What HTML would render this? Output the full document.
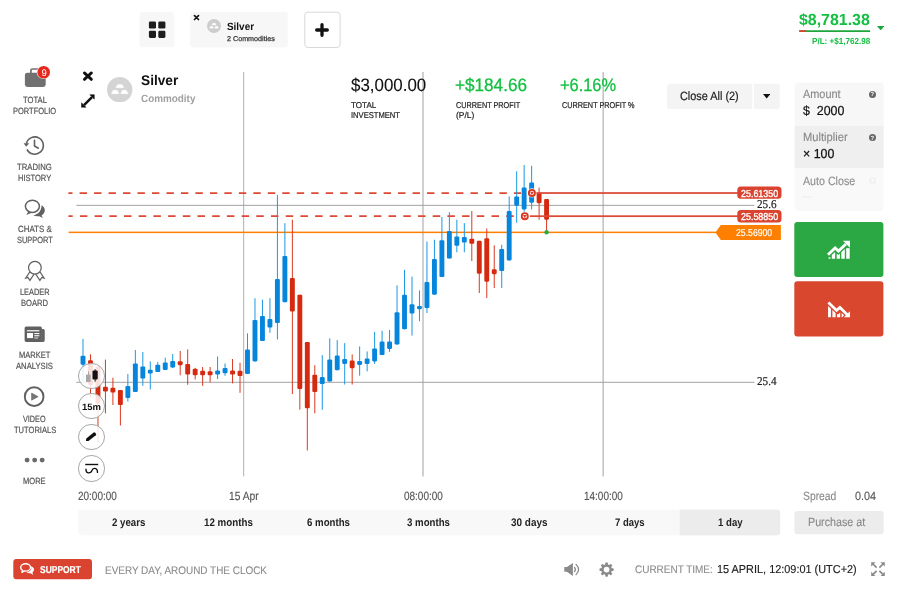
<!DOCTYPE html>
<html lang="en"><head><meta charset="utf-8"><title>Silver - Trading</title>
<style>
html,body{margin:0;padding:0;background:#fff;}
body{width:902px;height:590px;position:relative;overflow:hidden;font-family:"Liberation Sans",sans-serif;}
.b{position:absolute;display:block;}
.t{position:absolute;display:block;white-space:pre;line-height:1;transform-origin:0 0;text-rendering:geometricPrecision;}
.ff-s{font-family:"Liberation Serif",serif;}
</style></head><body>
<svg class="b" style="left:0;top:0" width="902" height="590" viewBox="0 0 902 590"><path d="M142.50 12.00H171.50A3 3 0 0 1 174.50 15.00V44.30A3 3 0 0 1 171.50 47.30H142.50A3 3 0 0 1 139.50 44.30V15.00A3 3 0 0 1 142.50 12.00z" fill="#f7f7f7"/><path d="M193.30 12.00H284.70A3 3 0 0 1 287.70 15.00V44.40A3 3 0 0 1 284.70 47.40H193.30A3 3 0 0 1 190.30 44.40V15.00A3 3 0 0 1 193.30 12.00z" fill="#f7f7f7"/><path d="M307.80 12.20H337.10A3 3 0 0 1 340.10 15.20V44.50A3 3 0 0 1 337.10 47.50H307.80A3 3 0 0 1 304.80 44.50V15.20A3 3 0 0 1 307.80 12.20z" fill="#fff" stroke="#d8d8d8" stroke-width="1"/><path d="M799.30 30.20H870.10V32.00H799.30V30.20z" fill="#1fa43e"/><path d="M799.30 30.20H806.20V32.00H799.30V30.20z" fill="#d9432f"/><path d="M669.90 83.80H752.20V108.90H669.90A3 3 0 0 1 666.90 105.90V86.80A3 3 0 0 1 669.90 83.80z" fill="#f4f4f4"/><path d="M754.00 83.80H776.80A3 3 0 0 1 779.80 86.80V105.90A3 3 0 0 1 776.80 108.90H754.00V83.80z" fill="#f4f4f4"/><path d="M798.70 82.60H879.70A4 4 0 0 1 883.70 86.60V126.00H794.70V86.60A4 4 0 0 1 798.70 82.60z" fill="#f7f7f7"/><path d="M794.70 126.00H883.70V168.00H794.70V126.00z" fill="#efefef"/><path d="M794.70 168.00H883.70V207.00A4 4 0 0 1 879.70 211.00H798.70A4 4 0 0 1 794.70 207.00V168.00z" fill="#f9f9f9"/><path d="M802.70 196.30H811.50V197.30H802.70V196.30z" fill="#ececec"/><path d="M797.30 222.00H880.40A3 3 0 0 1 883.40 225.00V273.90A3 3 0 0 1 880.40 276.90H797.30A3 3 0 0 1 794.30 273.90V225.00A3 3 0 0 1 797.30 222.00z" fill="#2ba843"/><path d="M797.30 281.30H880.40A3 3 0 0 1 883.40 284.30V333.50A3 3 0 0 1 880.40 336.50H797.30A3 3 0 0 1 794.30 333.50V284.30A3 3 0 0 1 797.30 281.30z" fill="#d9472f"/><path d="M797.40 511.00H880.70A3 3 0 0 1 883.70 514.00V531.30A3 3 0 0 1 880.70 534.30H797.40A3 3 0 0 1 794.40 531.30V514.00A3 3 0 0 1 797.40 511.00z" fill="#ececec"/><path d="M81.30 509.70H777.10A3 3 0 0 1 780.10 512.70V532.30A3 3 0 0 1 777.10 535.30H81.30A3 3 0 0 1 78.30 532.30V512.70A3 3 0 0 1 81.30 509.70z" fill="#f8f8f8"/><path d="M679.70 509.70H777.10A3 3 0 0 1 780.10 512.70V532.30A3 3 0 0 1 777.10 535.30H679.70V509.70z" fill="#ececec"/><path d="M16.30 559.10H89.00A3 3 0 0 1 92.00 562.10V576.20A3 3 0 0 1 89.00 579.20H16.30A3 3 0 0 1 13.30 576.20V562.10A3 3 0 0 1 16.30 559.10z" fill="#d9432f"/></svg>
<svg class="b" style="left:0;top:0" width="902" height="590" viewBox="0 0 902 590">
<rect x="243.3" y="72" width="0.85" height="404.400" fill="#a2a2a2"/>
<rect x="422.5" y="72" width="1" height="404.400" fill="#a2a2a2"/>
<rect x="602.62" y="72" width="1" height="404.400" fill="#a2a2a2"/>
<rect x="76.300" y="204.850" width="678" height="1" fill="#a2a2a2"/>
<rect x="76.300" y="381.800" width="678" height="1" fill="#a2a2a2"/>
<rect x="68.600" y="231.600" width="655" height="1.500" fill="#ff8000"/>
<clipPath id="dc"><rect x="68.400" y="180" width="500" height="50"/></clipPath>
<g clip-path="url(#dc)" fill="none" stroke="#dc4a36" stroke-width="1.750">
<path d="M65.120 193.150H521.100" stroke-dasharray="7.400 7.077"/>
<path d="M65.200 216.050H513.700" stroke-dasharray="7.500 7.200"/>
</g>
<rect x="82.50" y="338.9" width="1" height="42.4" fill="#1c98e4"/>
<rect x="80.55" y="355.7" width="4.900" height="9.0" rx="1.100" fill="#0685dd"/>
<rect x="89.98" y="354.3" width="1" height="43.3" fill="#d93a22"/>
<rect x="88.03" y="360.3" width="4.900" height="24.7" rx="1.100" fill="#d52a10"/>
<rect x="97.45" y="366.0" width="1" height="77.0" fill="#d93a22"/>
<rect x="95.50" y="366.7" width="4.900" height="37.0" rx="1.100" fill="#d52a10"/>
<rect x="104.93" y="359.6" width="1" height="53.8" fill="#d93a22"/>
<rect x="102.98" y="386.7" width="4.900" height="4.8" rx="1.100" fill="#d52a10"/>
<rect x="112.41" y="377.7" width="1" height="27.3" fill="#d93a22"/>
<rect x="110.46" y="387.7" width="4.900" height="4.8" rx="1.100" fill="#d52a10"/>
<rect x="119.89" y="390.0" width="1" height="35.5" fill="#d93a22"/>
<rect x="117.94" y="390.0" width="4.900" height="15.0" rx="1.100" fill="#d52a10"/>
<rect x="127.36" y="374.0" width="1" height="27.6" fill="#1c98e4"/>
<rect x="125.41" y="386.0" width="4.900" height="12.0" rx="1.100" fill="#0685dd"/>
<rect x="134.84" y="350.0" width="1" height="42.0" fill="#1c98e4"/>
<rect x="132.89" y="363.4" width="4.900" height="28.6" rx="1.100" fill="#0685dd"/>
<rect x="142.32" y="352.0" width="1" height="33.8" fill="#1c98e4"/>
<rect x="140.37" y="366.4" width="4.900" height="12.1" rx="1.100" fill="#0685dd"/>
<rect x="149.79" y="361.4" width="1" height="28.1" fill="#1c98e4"/>
<rect x="147.84" y="369.7" width="4.900" height="3.8" rx="1.100" fill="#0685dd"/>
<rect x="157.27" y="362.0" width="1" height="10.0" fill="#1c98e4"/>
<rect x="155.32" y="364.7" width="4.900" height="7.3" rx="1.100" fill="#0685dd"/>
<rect x="164.75" y="357.6" width="1" height="12.4" fill="#1c98e4"/>
<rect x="162.80" y="362.4" width="4.900" height="7.5" rx="1.100" fill="#0685dd"/>
<rect x="172.22" y="354.0" width="1" height="14.0" fill="#1c98e4"/>
<rect x="170.27" y="361.1" width="4.900" height="6.4" rx="1.100" fill="#0685dd"/>
<rect x="179.70" y="351.0" width="1" height="24.3" fill="#d93a22"/>
<rect x="177.75" y="361.2" width="4.900" height="4.0" rx="1.100" fill="#d52a10"/>
<rect x="187.18" y="349.4" width="1" height="35.4" fill="#d93a22"/>
<rect x="185.23" y="364.0" width="4.900" height="10.5" rx="1.100" fill="#d52a10"/>
<rect x="194.66" y="367.8" width="1" height="11.7" fill="#d93a22"/>
<rect x="192.71" y="368.7" width="4.900" height="6.6" rx="1.100" fill="#d52a10"/>
<rect x="202.13" y="367.0" width="1" height="18.8" fill="#d93a22"/>
<rect x="200.18" y="370.7" width="4.900" height="4.6" rx="1.100" fill="#d52a10"/>
<rect x="209.61" y="367.0" width="1" height="15.3" fill="#d93a22"/>
<rect x="207.66" y="371.2" width="4.900" height="4.1" rx="1.100" fill="#d52a10"/>
<rect x="217.09" y="356.5" width="1" height="22.5" fill="#1c98e4"/>
<rect x="215.14" y="370.5" width="4.900" height="4.0" rx="1.100" fill="#0685dd"/>
<rect x="224.56" y="363.5" width="1" height="12.3" fill="#1c98e4"/>
<rect x="222.61" y="368.0" width="4.900" height="5.3" rx="1.100" fill="#0685dd"/>
<rect x="232.04" y="359.0" width="1" height="24.3" fill="#d93a22"/>
<rect x="230.09" y="370.5" width="4.900" height="4.0" rx="1.100" fill="#d52a10"/>
<rect x="239.52" y="362.7" width="1" height="30.1" fill="#d93a22"/>
<rect x="237.57" y="370.7" width="4.900" height="5.4" rx="1.100" fill="#d52a10"/>
<rect x="246.99" y="333.4" width="1" height="40.6" fill="#1c98e4"/>
<rect x="245.04" y="349.4" width="4.900" height="24.6" rx="1.100" fill="#0685dd"/>
<rect x="254.47" y="298.2" width="1" height="63.2" fill="#1c98e4"/>
<rect x="252.52" y="320.0" width="4.900" height="41.4" rx="1.100" fill="#0685dd"/>
<rect x="261.95" y="299.6" width="1" height="41.4" fill="#1c98e4"/>
<rect x="260.00" y="316.0" width="4.900" height="25.0" rx="1.100" fill="#0685dd"/>
<rect x="269.43" y="298.2" width="1" height="34.6" fill="#1c98e4"/>
<rect x="267.48" y="319.0" width="4.900" height="8.6" rx="1.100" fill="#0685dd"/>
<rect x="276.90" y="195.0" width="1" height="144.5" fill="#1c98e4"/>
<rect x="274.95" y="279.0" width="4.900" height="44.0" rx="1.100" fill="#0685dd"/>
<rect x="284.38" y="223.2" width="1" height="79.0" fill="#1c98e4"/>
<rect x="282.43" y="256.0" width="4.900" height="46.2" rx="1.100" fill="#0685dd"/>
<rect x="291.86" y="219.7" width="1" height="174.3" fill="#d93a22"/>
<rect x="289.91" y="277.9" width="4.900" height="33.6" rx="1.100" fill="#d52a10"/>
<rect x="299.33" y="294.7" width="1" height="114.9" fill="#d93a22"/>
<rect x="297.38" y="294.7" width="4.900" height="94.3" rx="1.100" fill="#d52a10"/>
<rect x="306.81" y="342.1" width="1" height="108.4" fill="#d93a22"/>
<rect x="304.86" y="342.1" width="4.900" height="66.2" rx="1.100" fill="#d52a10"/>
<rect x="314.29" y="365.2" width="1" height="48.1" fill="#d93a22"/>
<rect x="312.34" y="374.7" width="4.900" height="17.3" rx="1.100" fill="#d52a10"/>
<rect x="321.76" y="355.1" width="1" height="54.7" fill="#1c98e4"/>
<rect x="319.81" y="377.0" width="4.900" height="7.0" rx="1.100" fill="#0685dd"/>
<rect x="329.24" y="338.3" width="1" height="43.2" fill="#1c98e4"/>
<rect x="327.29" y="359.4" width="4.900" height="22.1" rx="1.100" fill="#0685dd"/>
<rect x="336.72" y="340.1" width="1" height="30.1" fill="#1c98e4"/>
<rect x="334.77" y="355.6" width="4.900" height="14.6" rx="1.100" fill="#0685dd"/>
<rect x="344.19" y="343.1" width="1" height="41.4" fill="#1c98e4"/>
<rect x="342.25" y="359.1" width="4.900" height="4.8" rx="1.100" fill="#0685dd"/>
<rect x="351.67" y="354.4" width="1" height="30.1" fill="#d93a22"/>
<rect x="349.72" y="360.6" width="4.900" height="7.6" rx="1.100" fill="#d52a10"/>
<rect x="359.15" y="346.4" width="1" height="29.3" fill="#1c98e4"/>
<rect x="357.20" y="361.1" width="4.900" height="3.8" rx="1.100" fill="#0685dd"/>
<rect x="366.63" y="351.4" width="1" height="20.0" fill="#1c98e4"/>
<rect x="364.68" y="358.6" width="4.900" height="5.3" rx="1.100" fill="#0685dd"/>
<rect x="374.10" y="331.8" width="1" height="32.1" fill="#1c98e4"/>
<rect x="372.15" y="348.4" width="4.900" height="13.0" rx="1.100" fill="#0685dd"/>
<rect x="381.58" y="330.8" width="1" height="24.3" fill="#1c98e4"/>
<rect x="379.63" y="341.6" width="4.900" height="13.5" rx="1.100" fill="#0685dd"/>
<rect x="389.06" y="330.0" width="1" height="21.9" fill="#1c98e4"/>
<rect x="387.11" y="341.4" width="4.900" height="7.5" rx="1.100" fill="#0685dd"/>
<rect x="396.53" y="285.4" width="1" height="59.2" fill="#1c98e4"/>
<rect x="394.58" y="312.2" width="4.900" height="32.4" rx="1.100" fill="#0685dd"/>
<rect x="404.01" y="269.8" width="1" height="59.5" fill="#1c98e4"/>
<rect x="402.06" y="294.7" width="4.900" height="34.6" rx="1.100" fill="#0685dd"/>
<rect x="411.49" y="276.6" width="1" height="59.0" fill="#1c98e4"/>
<rect x="409.54" y="304.2" width="4.900" height="9.3" rx="1.100" fill="#0685dd"/>
<rect x="418.97" y="290.4" width="1" height="30.9" fill="#1c98e4"/>
<rect x="417.02" y="305.9" width="4.900" height="3.3" rx="1.100" fill="#0685dd"/>
<rect x="426.44" y="241.5" width="1" height="71.5" fill="#1c98e4"/>
<rect x="424.49" y="282.0" width="4.900" height="26.0" rx="1.100" fill="#0685dd"/>
<rect x="433.92" y="239.7" width="1" height="55.0" fill="#1c98e4"/>
<rect x="431.97" y="259.0" width="4.900" height="35.7" rx="1.100" fill="#0685dd"/>
<rect x="441.40" y="217.0" width="1" height="60.1" fill="#1c98e4"/>
<rect x="439.45" y="240.2" width="4.900" height="36.9" rx="1.100" fill="#0685dd"/>
<rect x="448.87" y="212.1" width="1" height="46.4" fill="#1c98e4"/>
<rect x="446.92" y="230.9" width="4.900" height="27.6" rx="1.100" fill="#0685dd"/>
<rect x="456.35" y="219.7" width="1" height="32.6" fill="#1c98e4"/>
<rect x="454.40" y="236.5" width="4.900" height="9.3" rx="1.100" fill="#0685dd"/>
<rect x="463.83" y="223.2" width="1" height="29.1" fill="#1c98e4"/>
<rect x="461.88" y="237.0" width="4.900" height="5.5" rx="1.100" fill="#0685dd"/>
<rect x="471.30" y="211.0" width="1" height="50.0" fill="#d93a22"/>
<rect x="469.35" y="238.7" width="4.900" height="5.1" rx="1.100" fill="#d52a10"/>
<rect x="478.78" y="240.8" width="1" height="52.2" fill="#d93a22"/>
<rect x="476.83" y="240.8" width="4.900" height="32.9" rx="1.100" fill="#d52a10"/>
<rect x="486.26" y="228.5" width="1" height="69.5" fill="#d93a22"/>
<rect x="484.31" y="238.3" width="4.900" height="43.4" rx="1.100" fill="#d52a10"/>
<rect x="493.74" y="245.3" width="1" height="42.7" fill="#d93a22"/>
<rect x="491.79" y="269.3" width="4.900" height="4.9" rx="1.100" fill="#d52a10"/>
<rect x="501.21" y="244.8" width="1" height="43.2" fill="#1c98e4"/>
<rect x="499.26" y="249.0" width="4.900" height="22.0" rx="1.100" fill="#0685dd"/>
<rect x="508.69" y="196.4" width="1" height="64.0" fill="#1c98e4"/>
<rect x="506.74" y="211.0" width="4.900" height="49.4" rx="1.100" fill="#0685dd"/>
<rect x="516.17" y="171.3" width="1" height="51.4" fill="#1c98e4"/>
<rect x="514.22" y="196.4" width="4.900" height="9.3" rx="1.100" fill="#0685dd"/>
<rect x="523.64" y="165.0" width="1" height="47.0" fill="#1c98e4"/>
<rect x="521.69" y="187.6" width="4.900" height="21.8" rx="1.100" fill="#0685dd"/>
<rect x="531.12" y="165.8" width="1" height="43.6" fill="#1c98e4"/>
<rect x="529.17" y="182.6" width="4.900" height="20.1" rx="1.100" fill="#0685dd"/>
<rect x="538.60" y="187.6" width="1" height="32.1" fill="#d93a22"/>
<rect x="536.65" y="193.1" width="4.900" height="10.1" rx="1.100" fill="#d52a10"/>
<rect x="546.07" y="198.9" width="1" height="31.4" fill="#d93a22"/>
<rect x="544.12" y="198.9" width="4.900" height="20.8" rx="1.100" fill="#d52a10"/>
<rect x="536" y="192.150" width="205" height="1.750" fill="#dc4a36"/>
<rect x="529.900" y="215.300" width="211" height="1.750" fill="#dc4a36"/>
<g transform="translate(531.9 192.95)"><circle r="4.600" fill="#fff" opacity="0.800"/><circle r="3.050" fill="#fff" stroke="#d9371f" stroke-width="1.850"/><path d="M-1.800 -1.200H1.800L0 2z" fill="#d9371f"/></g>
<g transform="translate(524.8 216.2)"><circle r="4.600" fill="#fff" opacity="0.800"/><circle r="3.050" fill="#fff" stroke="#d9371f" stroke-width="1.850"/><path d="M-1.800 -1.200H1.800L0 2z" fill="#d9371f"/></g>
<circle cx="546.600" cy="232.300" r="2.200" fill="#2aa741"/>
<rect x="737.300" y="186.400" width="44.200" height="12.400" rx="3.500" fill="#d9432f"/>
<rect x="737.300" y="209.900" width="44.200" height="12.600" rx="3.500" fill="#d9432f"/>
<path d="M715.400 232.450L720.800 224.900H780.900V240H720.800z" fill="#ff8000"/>
</svg>
<header>
<svg class="b" style="left:148px;top:21px" width="18" height="18" viewBox="0 0 18 18"><g fill="#1e1e1e"><rect x="0.900" y="0.500" width="7.100" height="7.100" rx="1.300"/><rect x="10.300" y="0.500" width="7.100" height="7.100" rx="1.300"/><rect x="0.900" y="9.800" width="7.100" height="7.100" rx="1.300"/><rect x="10.300" y="9.800" width="7.100" height="7.100" rx="1.300"/></g></svg>
<svg class="b" style="left:193.2px;top:14.4px" width="7" height="7" viewBox="0 0 7 7"><path d="M1.500 1.700L5.500 5.500M5.500 1.700L1.500 5.500" stroke="#111" stroke-width="1.700" stroke-linecap="round"/></svg>
<svg class="b" style="left:206.60px;top:19.00px" width="14.00" height="14.00" viewBox="-12.700 -12.700 25.400 25.400"><circle r="12.700" fill="#cdcdcd"/><g fill="#fff" stroke="#fff" stroke-width="0.600" stroke-linejoin="round"><path d="M-2.200 -4.900H2.400L4 -2H-3.700z"/><path d="M-6.400 0.600H-2.600L-0.900 4H-8.200z"/><path d="M2.800 0.600H6.400L8.300 4H1.100z"/></g></svg>
<span class="t " style="left:226.70px;top:22px;font-size:10.5px;color:#111;font-weight:bold;transform:scaleX(0.9439);">Silver</span>
<span class="t " style="left:227.00px;top:36px;font-size:7px;color:#333;-webkit-text-stroke:0.25px #333;transform:scaleX(1.0239);">2 Commodities</span>
<svg class="b" style="left:315.250px;top:22.850px" width="14" height="14" viewBox="0 0 14 14"><path d="M7 1.700V12.300M1.700 7H12.300" stroke="#111" stroke-width="3.300" stroke-linecap="round"/></svg>
<span class="t " style="left:799.30px;top:13px;font-size:16px;color:#14bf42;font-weight:bold;transform:scaleX(0.9946);">$8,781.38</span>
<svg class="b" style="left:877px;top:25.8px" width="7.4" height="4.4" viewBox="0 0 7.4 4.4"><path d="M0 0H7.4L3.7 4.4z" fill="#1fa43e"/></svg>
<span class="t " style="left:811.70px;top:37px;font-size:8.8px;color:#14bf42;font-weight:bold;transform:scaleX(0.9218);">P/L: +$1,762.98</span>
</header>
<nav>
<span class="t " style="left:22.65px;top:96px;font-size:9px;color:#555;-webkit-text-stroke:0.2px #555;transform:scaleX(0.8483);">TOTAL</span>
<span class="t " style="left:13.00px;top:107px;font-size:9px;color:#555;-webkit-text-stroke:0.2px #555;transform:scaleX(0.8333);">PORTFOLIO</span>
<span class="t " style="left:17.25px;top:163px;font-size:9px;color:#555;-webkit-text-stroke:0.2px #555;transform:scaleX(0.8568);">TRADING</span>
<span class="t " style="left:18.00px;top:174px;font-size:9px;color:#555;-webkit-text-stroke:0.2px #555;transform:scaleX(0.8367);">HISTORY</span>
<span class="t " style="left:17.75px;top:225px;font-size:9px;color:#555;-webkit-text-stroke:0.2px #555;transform:scaleX(0.8790);">CHATS &amp;</span>
<span class="t " style="left:16.65px;top:236px;font-size:9px;color:#555;-webkit-text-stroke:0.2px #555;transform:scaleX(0.8282);">SUPPORT</span>
<span class="t " style="left:19.80px;top:288px;font-size:9px;color:#555;-webkit-text-stroke:0.2px #555;transform:scaleX(0.8219);">LEADER</span>
<span class="t " style="left:21.05px;top:299px;font-size:9px;color:#555;-webkit-text-stroke:0.2px #555;transform:scaleX(0.8467);">BOARD</span>
<span class="t " style="left:18.90px;top:351px;font-size:9px;color:#555;-webkit-text-stroke:0.2px #555;transform:scaleX(0.8372);">MARKET</span>
<span class="t " style="left:16.15px;top:362px;font-size:9px;color:#555;-webkit-text-stroke:0.2px #555;transform:scaleX(0.8511);">ANALYSIS</span>
<span class="t " style="left:23.30px;top:415px;font-size:9px;color:#555;-webkit-text-stroke:0.2px #555;transform:scaleX(0.8069);">VIDEO</span>
<span class="t " style="left:13.50px;top:426px;font-size:9px;color:#555;-webkit-text-stroke:0.2px #555;transform:scaleX(0.8382);">TUTORIALS</span>
<span class="t " style="left:23.30px;top:477px;font-size:9px;color:#555;-webkit-text-stroke:0.2px #555;transform:scaleX(0.8370);">MORE</span>
<svg class="b" style="left:18px;top:62px" width="38" height="30" viewBox="0 0 38 30"><path d="M12.9 11.500V8.400Q12.900 7 14.300 7H20.200Q21.600 7 21.600 8.400V11.500" fill="none" stroke="#707070" stroke-width="1.700"/><rect x="6.900" y="10.700" width="20.800" height="14.200" rx="2.400" fill="#707070"/><circle cx="25.700" cy="10.200" r="6.900" fill="#fff"/><circle cx="25.700" cy="10.200" r="6.300" fill="#e8271c"/></svg>
<span class="t " style="left:41.41px;top:69px;font-size:9.5px;color:#fff;">9</span>
<svg class="b" style="left:18px;top:130px" width="34" height="30" viewBox="0 0 34 30"><g fill="none" stroke="#606060" stroke-width="1.600"><path d="M8.400 13.500A8.600 8.600 0 1 1 9 19.300"/><path d="M16.500 10.200V16L20.300 18.200" stroke-linecap="round" stroke-linejoin="round"/></g><path d="M5.600 13.300L11.200 13.300L8.200 16.800z" fill="#606060"/></svg>
<svg class="b" style="left:18px;top:193px" width="34" height="29" viewBox="0 0 34 29"><ellipse cx="14.400" cy="13.300" rx="7" ry="6.150" fill="#fff" stroke="#606060" stroke-width="1.500"/><path d="M10.400 18.500L8.300 21.900L13.200 19.900z" fill="#606060"/><path d="M23.600 12.300C25.600 13.500 26.900 15.400 26.800 17.200C26.700 19.500 25.400 21.400 23.600 22.600L24.900 25L21.300 23.300C19.500 23.400 17 23.200 15.200 22.300C19.500 21.800 23.500 18.500 23.600 12.300z" fill="#606060"/></svg>
<svg class="b" style="left:18px;top:256px" width="34" height="30" viewBox="0 0 34 30"><g fill="none" stroke="#606060" stroke-width="1.250" stroke-linejoin="miter"><circle cx="16.900" cy="11.700" r="6.350"/><path d="M11.700 16L7.700 22.100L9.900 21.500L11.900 24.400L16.200 18"/><path d="M22.100 16L26.100 22.100L23.900 21.500L21.900 24.400L17.600 18"/></g></svg>
<svg class="b" style="left:18px;top:320px" width="34" height="30" viewBox="0 0 34 30"><path d="M8.200 6.600H22.300Q23.900 6.600 23.900 8.200V8.900H25.100Q26.700 8.900 26.700 10.500V20.300Q26.700 21.900 25.100 21.900H8.200Q6.600 21.900 6.600 20.300V8.200Q6.600 6.600 8.200 6.600z" fill="#606060"/><g fill="#fff"><rect x="8.900" y="10.100" width="12.500" height="1.300" opacity="0.900"/><rect x="9.050" y="13" width="5.950" height="5.100"/><rect x="16.300" y="13" width="5.100" height="1.100"/><rect x="16.300" y="15.200" width="5.100" height="1.100"/><rect x="16.300" y="17.300" width="3.800" height="1.300" opacity="0.600"/></g><rect x="23.500" y="9" width="0.700" height="12" fill="#fff" opacity="0.150"/></svg>
<svg class="b" style="left:18px;top:382px" width="34" height="30" viewBox="0 0 34 30"><circle cx="16.150" cy="14.650" r="9.350" fill="none" stroke="#606060" stroke-width="1.900"/><path d="M13.600 11.100L20.100 14.650L13.600 18.200z" fill="#777" stroke="#606060" stroke-width="0.600" stroke-linejoin="round"/></svg>
<svg class="b" style="left:24px;top:456px" width="22" height="8" viewBox="0 0 22 8"><g fill="#6a6a6a"><circle cx="3.100" cy="4.100" r="2.450"/><circle cx="10.650" cy="4.100" r="2.450"/><circle cx="18.150" cy="4.100" r="2.450"/></g></svg>
</nav>
<main>
<svg class="b" style="left:82px;top:70px" width="12" height="12" viewBox="0 0 12 12"><path d="M2.400 2.900L9.400 9.400M9.400 2.900L2.400 9.400" stroke="#111" stroke-width="2.800" stroke-linecap="round"/></svg>
<svg class="b" style="left:80px;top:92.500px" width="16" height="16" viewBox="0 0 16 16"><path d="M4 12.100L12 4.100" stroke="#111" stroke-width="2.400"/><path d="M9.800 1.700H14.300V6.200z M1.500 9.800V14.300H6z" fill="#111" stroke="#111" stroke-width="0.500" stroke-linejoin="round"/></svg>
<svg class="b" style="left:107.15px;top:76.60px" width="25.40" height="25.40" viewBox="-12.700 -12.700 25.400 25.400"><circle r="12.700" fill="#d4d4d4"/><g fill="#fff" stroke="#fff" stroke-width="0.600" stroke-linejoin="round"><path d="M-2.200 -4.900H2.400L4 -2H-3.700z"/><path d="M-6.400 0.600H-2.600L-0.900 4H-8.200z"/><path d="M2.800 0.600H6.400L8.300 4H1.100z"/></g></svg>
<span class="t " style="left:141.40px;top:73px;font-size:14px;color:#111;font-weight:bold;transform:scaleX(0.9780);">Silver</span>
<span class="t " style="left:141.40px;top:94px;font-size:10.5px;color:#a0a0a0;font-weight:bold;transform:scaleX(0.9420);">Commodity</span>
<span class="t " style="left:351.30px;top:76px;font-size:18px;color:#111;-webkit-text-stroke:0.1px #111;transform:scaleX(0.9391);">$3,000.00</span>
<span class="t " style="left:351.30px;top:101px;font-size:8.5px;color:#222;-webkit-text-stroke:0.2px #222;transform:scaleX(0.9500);">TOTAL</span>
<span class="t " style="left:351.30px;top:111px;font-size:8.5px;color:#222;-webkit-text-stroke:0.2px #222;transform:scaleX(0.8926);">INVESTMENT</span>
<span class="t " style="left:454.90px;top:76px;font-size:18px;color:#14bf42;-webkit-text-stroke:0.3px #14bf42;transform:scaleX(0.9526);">+$184.66</span>
<span class="t " style="left:455.90px;top:101px;font-size:8.5px;color:#222;-webkit-text-stroke:0.2px #222;transform:scaleX(0.8568);">CURRENT PROFIT</span>
<span class="t " style="left:455.90px;top:111px;font-size:8.5px;color:#222;-webkit-text-stroke:0.2px #222;transform:scaleX(0.9935);">(P/L)</span>
<span class="t " style="left:560.00px;top:76px;font-size:18px;color:#14bf42;-webkit-text-stroke:0.3px #14bf42;transform:scaleX(0.9098);">+6.16%</span>
<span class="t " style="left:561.50px;top:101px;font-size:8.5px;color:#222;-webkit-text-stroke:0.2px #222;transform:scaleX(0.8560);">CURRENT PROFIT %</span>
<span class="t " style="left:679.90px;top:90px;font-size:12px;color:#222;-webkit-text-stroke:0.2px #222;transform:scaleX(0.9074);">Close All (2)</span>
<svg class="b" style="left:762.8px;top:94.2px" width="7.4" height="4.6" viewBox="0 0 7.4 4.600"><path d="M0 0H7.400L3.700 4.600z" fill="#111"/></svg>
</main>
<aside>
<span class="t " style="left:802.70px;top:88px;font-size:12px;color:#888;-webkit-text-stroke:0.12px #888;transform:scaleX(0.9092);">Amount</span>
<span class="t " style="left:802.70px;top:104px;font-size:13px;color:#111;-webkit-text-stroke:0.2px #111;transform:scaleX(0.9545);">$  2000</span>
<span class="t " style="left:802.70px;top:131px;font-size:12px;color:#888;-webkit-text-stroke:0.12px #888;transform:scaleX(0.9289);">Multiplier</span>
<span class="t " style="left:802.70px;top:147px;font-size:13px;color:#111;-webkit-text-stroke:0.25px #111;transform:scaleX(0.9515);">× 100</span>
<span class="t " style="left:802.70px;top:175px;font-size:12px;color:#8e8e8e;-webkit-text-stroke:0.12px #8e8e8e;transform:scaleX(0.8893);">Auto Close</span>
<div class="b" style="left:868.80px;top:90.70px;width:7.2px;height:7.2px;border-radius:50%;background:#666;"></div>
<span class="t " style="left:870.57px;top:92px;font-size:6px;color:#fff;font-weight:bold;">?</span>
<div class="b" style="left:868.80px;top:133.80px;width:7.2px;height:7.2px;border-radius:50%;background:#666;"></div>
<span class="t " style="left:870.57px;top:136px;font-size:6px;color:#fff;font-weight:bold;">?</span>
<div class="b" style="left:868.80px;top:176.80px;width:7.2px;height:7.2px;border-radius:50%;background:#f1f1f1;"></div>
<span class="t " style="left:870.57px;top:179px;font-size:6px;color:#fff;font-weight:bold;">?</span>
<svg class="b" style="left:820px;top:232px" width="40" height="34" viewBox="0 0 40 34"><g fill="#fff"><path d="M8 22.700L15.100 15.900L18.500 19L26 11.900" fill="none" stroke="#fff" stroke-width="2.800"/><path d="M22.900 8.800H30V15.700z"/><rect x="8.600" y="25.300" width="1.800" height="1.500"/><path d="M11.800 26.800V23.100L15.100 20V26.800z"/><path d="M16.700 26.800V21.400L18.400 23L19.900 21.600V26.800z"/><path d="M21.300 26.800V20.300L24.800 17V26.800z"/><path d="M26.200 26.800V16.200L29.700 16.200V26.800z"/></g></svg>
<svg class="b" style="left:820px;top:292px" width="40" height="34" viewBox="0 0 40 34"><g fill="#fff"><path d="M8.400 10.400L16.600 18.400L19.900 15.500L27.300 22.700" fill="none" stroke="#fff" stroke-width="2.800"/><path d="M30 19.200V25.200H23.900z"/><path d="M8.050 25.200V13.900L10.950 16.700V25.200z"/><path d="M12.400 25.200V18L15.600 21.100V25.200z"/><path d="M17 25.200V21.900L18.300 22.300L20.200 20.600V25.200z"/><path d="M21.600 25.200V20.900L24.100 23.300L22.200 25.200z"/></g></svg>
<span class="t " style="left:802.70px;top:490px;font-size:12px;color:#888;-webkit-text-stroke:0.12px #888;transform:scaleX(0.8605);">Spread</span>
<span class="t " style="left:854.80px;top:490px;font-size:12px;color:#555;-webkit-text-stroke:0.12px #555;transform:scaleX(0.9034);">0.04</span>
<span class="t " style="left:808.20px;top:516px;font-size:12px;color:#888;-webkit-text-stroke:0.12px #888;transform:scaleX(0.8932);">Purchase at</span>
</aside>
<section>
<span class="t " style="left:111.60px;top:518px;font-size:11px;color:#222;font-weight:bold;transform:scaleX(0.8807);">2 years</span>
<span class="t " style="left:203.75px;top:518px;font-size:11px;color:#222;font-weight:bold;transform:scaleX(0.8889);">12 months</span>
<span class="t " style="left:307.05px;top:518px;font-size:11px;color:#222;font-weight:bold;transform:scaleX(0.8774);">6 months</span>
<span class="t " style="left:407.35px;top:518px;font-size:11px;color:#222;font-weight:bold;transform:scaleX(0.8774);">3 months</span>
<span class="t " style="left:510.75px;top:518px;font-size:11px;color:#222;font-weight:bold;transform:scaleX(0.9043);">30 days</span>
<span class="t " style="left:615.20px;top:518px;font-size:11px;color:#222;font-weight:bold;transform:scaleX(0.8643);">7 days</span>
<span class="t " style="left:718.10px;top:518px;font-size:11px;color:#222;font-weight:bold;transform:scaleX(0.8745);">1 day</span>
<span class="t " style="left:78.30px;top:490px;font-size:12px;color:#555;-webkit-text-stroke:0.15px #555;transform:scaleX(0.8306);">20:00:00</span>
<span class="t " style="left:228.80px;top:490px;font-size:12px;color:#555;-webkit-text-stroke:0.15px #555;transform:scaleX(0.8531);">15 Apr</span>
<span class="t " style="left:403.60px;top:490px;font-size:12px;color:#555;-webkit-text-stroke:0.15px #555;transform:scaleX(0.8306);">08:00:00</span>
<span class="t " style="left:583.90px;top:490px;font-size:12px;color:#555;-webkit-text-stroke:0.15px #555;transform:scaleX(0.8306);">14:00:00</span>
</section>
<footer>
<svg class="b" style="left:19.600px;top:563.400px" width="15" height="13" viewBox="0 0 22 19"><path d="M14.500 4.200C18 4.600 20.600 6.800 20.600 9.600c0 1.700-.9 3.100-2.400 4.100l1.200 3.600-4.200-2.300c-2.200.1-4.200-.4-5.600-1.500 4-.4 7-2.900 7-6.300 0-1.100-.8-2.200-2.100-3z" fill="#fff"/><path d="M8.200 1C4.200 1 1 3.400 1 6.400c0 1.700 1 3.200 2.600 4.200L2.800 13.800l3.600-2.200c.6.100 1.200.2 1.800.2 4 0 7.200-2.400 7.200-5.400S12.200 1 8.200 1z" fill="#d9432f" stroke="#fff" stroke-width="2" stroke-linejoin="round"/></svg>
<span class="t " style="left:40.10px;top:566px;font-size:10px;color:#fff;font-weight:bold;-webkit-text-stroke:0.2px #fff;transform:scaleX(0.8461);">SUPPORT</span>
<span class="t " style="left:105.30px;top:566px;font-size:11px;color:#8a8a8a;-webkit-text-stroke:0.12px #8a8a8a;transform:scaleX(0.9034);">EVERY DAY, AROUND THE CLOCK</span>
<span class="t " style="left:634.80px;top:565px;font-size:11px;color:#8a8a8a;-webkit-text-stroke:0.12px #8a8a8a;transform:scaleX(0.9071);">CURRENT TIME:</span>
<span class="t " style="left:717.40px;top:565px;font-size:11.5px;color:#222;-webkit-text-stroke:0.15px #222;transform:scaleX(0.9481);">15 APRIL, 12:09:01 (UTC+2)</span>
<svg class="b" style="left:558px;top:556px" width="30" height="26" viewBox="0 0 30 26"><path d="M6.300 11H8.900L14.900 7.100V19.900L8.900 15.700H6.300z" fill="#8a8a8a"/><g fill="none" stroke="#8a8a8a" stroke-width="1.300" stroke-linecap="round"><path d="M16.500 11.400Q18.300 13.500 16.500 15.600"/><path d="M18 8.400Q23.200 13.500 18 18.600"/></g></svg>
<svg class="b" style="left:599.400px;top:562px" width="15.200" height="15.200" viewBox="-7.600 -7.600 15.200 15.200"><g fill="#8a8a8a"><rect x="-1.300" y="-7.100" width="2.600" height="3.400" rx="0.700" transform="rotate(0)"/><rect x="-1.300" y="-7.100" width="2.600" height="3.400" rx="0.700" transform="rotate(45)"/><rect x="-1.300" y="-7.100" width="2.600" height="3.400" rx="0.700" transform="rotate(90)"/><rect x="-1.300" y="-7.100" width="2.600" height="3.400" rx="0.700" transform="rotate(135)"/><rect x="-1.300" y="-7.100" width="2.600" height="3.400" rx="0.700" transform="rotate(180)"/><rect x="-1.300" y="-7.100" width="2.600" height="3.400" rx="0.700" transform="rotate(225)"/><rect x="-1.300" y="-7.100" width="2.600" height="3.400" rx="0.700" transform="rotate(270)"/><rect x="-1.300" y="-7.100" width="2.600" height="3.400" rx="0.700" transform="rotate(315)"/></g><circle r="4.100" fill="none" stroke="#8a8a8a" stroke-width="2.400"/></svg>
<svg class="b" style="left:871px;top:562.1px" width="14" height="14.4" viewBox="0 0 14 14.4"><g transform="translate(7 7.200) scale(1 1)"><path d="M-6.800 -7V-2.600L-2.400 -7z" fill="#8a8a8a"/><path d="M-5.500 -5.700L-1.400 -1.600" stroke="#8a8a8a" stroke-width="1.700" fill="none"/></g><g transform="translate(7 7.200) scale(-1 1)"><path d="M-6.800 -7V-2.600L-2.400 -7z" fill="#8a8a8a"/><path d="M-5.500 -5.700L-1.400 -1.600" stroke="#8a8a8a" stroke-width="1.700" fill="none"/></g><g transform="translate(7 7.200) scale(1 -1)"><path d="M-6.800 -7V-2.600L-2.400 -7z" fill="#8a8a8a"/><path d="M-5.500 -5.700L-1.400 -1.600" stroke="#8a8a8a" stroke-width="1.700" fill="none"/></g><g transform="translate(7 7.200) scale(-1 -1)"><path d="M-6.800 -7V-2.600L-2.400 -7z" fill="#8a8a8a"/><path d="M-5.500 -5.700L-1.400 -1.600" stroke="#8a8a8a" stroke-width="1.700" fill="none"/></g></svg>
</footer>
<span class="t " style="left:741.20px;top:190px;font-size:10px;color:#fff;-webkit-text-stroke:0.35px #fff;transform:scaleX(0.8919);">25.61350</span>
<span class="t " style="left:741.20px;top:213px;font-size:10px;color:#fff;-webkit-text-stroke:0.35px #fff;transform:scaleX(0.8919);">25.58850</span>
<span class="t " style="left:735.80px;top:229px;font-size:10px;color:#fff;-webkit-text-stroke:0.15px #fff;transform:scaleX(0.8679);">25.56900</span>
<span class="t ff-s" style="left:757.20px;top:198px;font-size:12px;color:#222;-webkit-text-stroke:0.2px #222;transform:scaleX(0.9333);">25.6</span>
<span class="t ff-s" style="left:757.20px;top:375px;font-size:12px;color:#222;-webkit-text-stroke:0.2px #222;transform:scaleX(0.9333);">25.4</span>
<div class="b" style="left:78.35px;top:362.50px;width:26.200px;height:26.200px;box-sizing:border-box;border:1px solid #a4a8a8;border-radius:50%;background:rgba(255,255,255,0.850);"></div>
<div class="b" style="left:78.35px;top:393.30px;width:26.200px;height:26.200px;box-sizing:border-box;border:1px solid #a4a8a8;border-radius:50%;background:rgba(255,255,255,0.850);"></div>
<div class="b" style="left:78.35px;top:424.30px;width:26.200px;height:26.200px;box-sizing:border-box;border:1px solid #a4a8a8;border-radius:50%;background:rgba(255,255,255,0.850);"></div>
<div class="b" style="left:78.35px;top:455.40px;width:26.200px;height:26.200px;box-sizing:border-box;border:1px solid #a4a8a8;border-radius:50%;background:rgba(255,255,255,0.850);"></div>
<span class="t " style="left:82.40px;top:403px;font-size:9.2px;color:#111;font-weight:bold;transform:scaleX(1.0318);">15m</span>
<svg class="b" style="left:84px;top:366px" width="16" height="18" viewBox="0 0 16 18"><rect x="4.050" y="5.400" width="0.800" height="4" fill="#999"/><rect x="2" y="8.600" width="4.600" height="7.400" fill="#a6a6a6"/><rect x="10.600" y="3.200" width="1" height="12.500" fill="#111"/><rect x="8.500" y="4.600" width="5.200" height="8.900" rx="1" fill="#111"/></svg>
<svg class="b" style="left:84px;top:430px" width="16" height="14" viewBox="0 0 16 14"><path d="M1.900 11.100L2.300 8.600L9.600 2.500Q10.400 1.900 11.100 2.700L12 3.800Q12.600 4.600 11.800 5.300L4.500 11.100z" fill="#111"/></svg>
<svg class="b" style="left:84px;top:461px" width="16" height="14" viewBox="0 0 16 14"><path d="M1.200 3.500H14.200" stroke="#111" stroke-width="1.400" fill="none"/><path d="M2 8.200Q2 11.900 4.600 11.900Q7.200 11.900 7.900 9.600Q8.500 7.400 10.400 7.400Q13.500 7.400 13.500 11.400" stroke="#111" stroke-width="1.400" fill="none" stroke-linecap="round"/></svg>
</body></html>
